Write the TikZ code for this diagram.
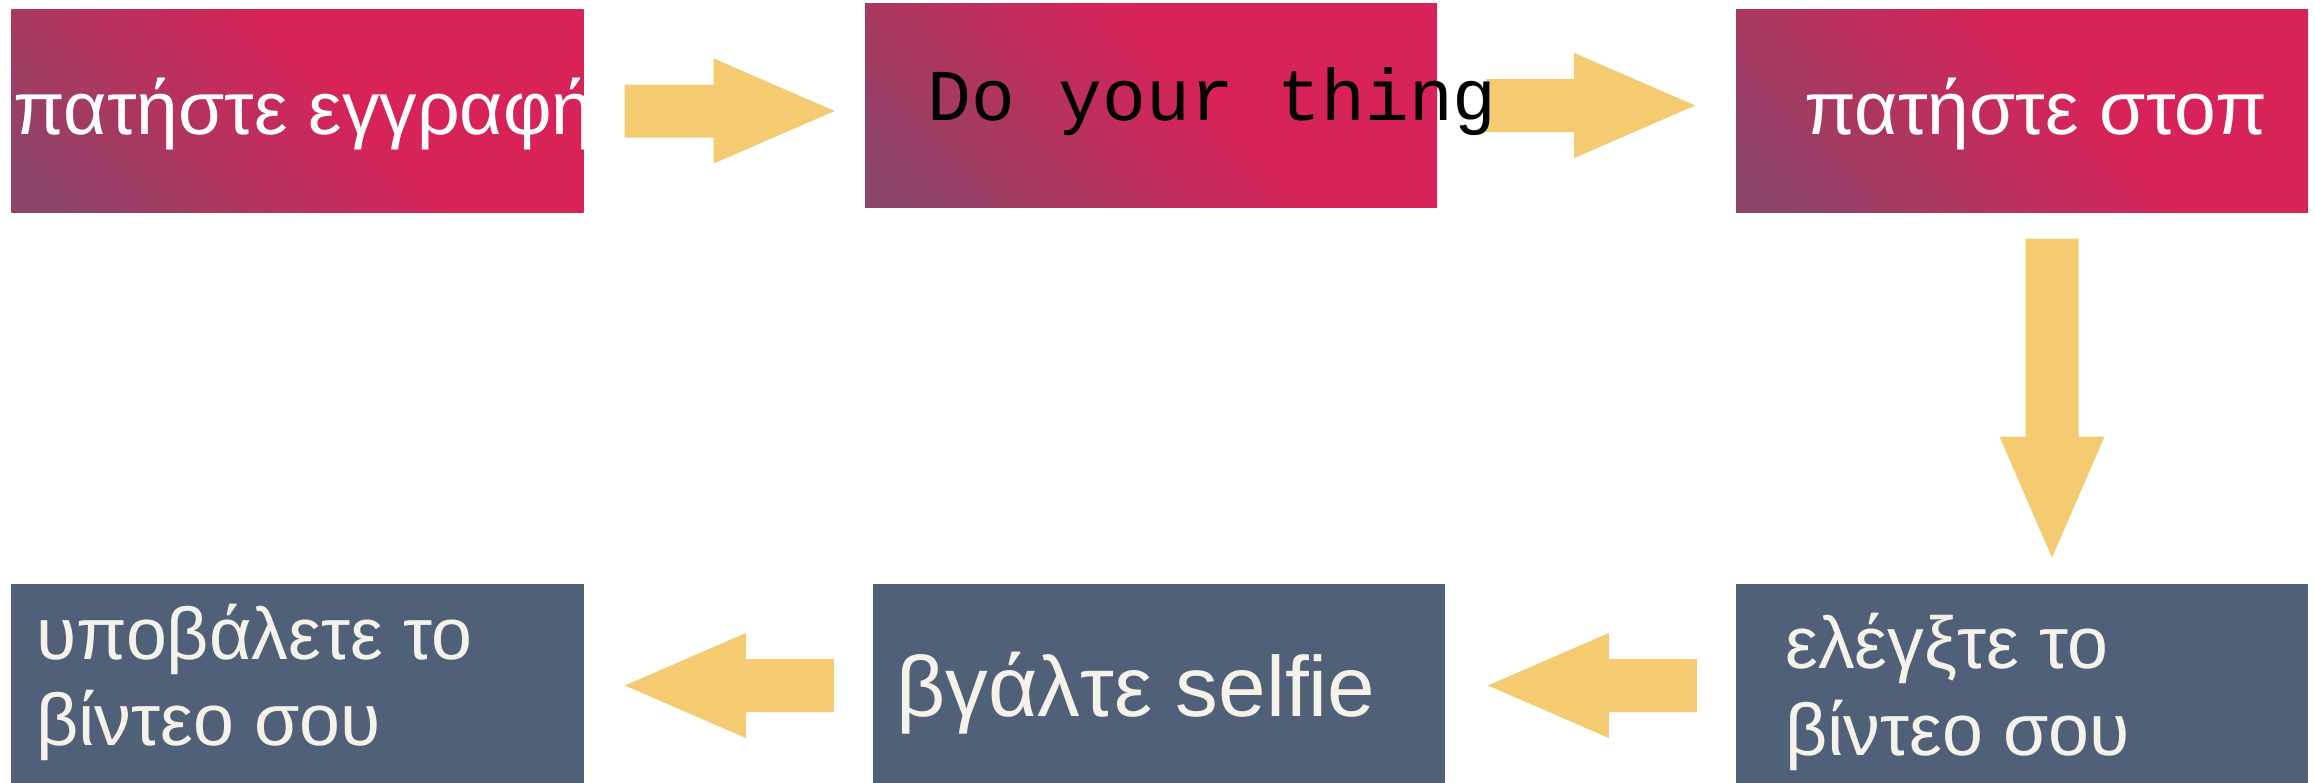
\documentclass[tikz,border=0pt]{standalone}
\usepackage{fontspec}
\setmainfont{Liberation Sans}
\newfontfamily\typewriter{Liberation Mono}

\definecolor{crimson}{HTML}{D72357}
\definecolor{plum}{HTML}{8E4468}
\definecolor{slate}{HTML}{4F6078}
\definecolor{cream}{HTML}{F5F2EA}
\definecolor{mustard}{HTML}{F4CB70}

\pgfdeclarehorizontalshading{redfade}{100bp}{color(0bp)=(plum); color(20bp)=(plum); color(56bp)=(crimson); color(100bp)=(crimson)}

\tikzset{
  redbox/.style={shade, shading=redfade, shading angle=45, inner sep=0pt, minimum width=572bp, minimum height=203bp},
  bluebox/.style={fill=slate, inner sep=0pt, minimum width=572bp, minimum height=203bp},
  bigtext/.style={font=\fontsize{75bp}{86bp}\selectfont, inner sep=0pt, anchor=base west},
  pics/blockarrow/.style={code={
    \fill[mustard] (0,-26.5) -- (#1,-26.5) -- (#1,-52.5) -- ++(121,52.5) -- (#1,52.5) -- (#1,26.5) -- (0,26.5) -- cycle;}}
}

\begin{document}
\begin{tikzpicture}[x=1bp, y=-1bp]
      \clip (0,0) rectangle (2315,782);
      \fill[white] (0,0) rectangle (2315,782);
      % top row
      \node[redbox] (rec) at (297.5,111) {};
      \node[redbox] (do) at (1151,105.5) {};
      \node[redbox] (stop) at (2022,111) {};
      % bottom row
      \node[bluebox] (check) at (2022,685.5) {};
      \node[bluebox] (selfie) at (1159,685.5) {};
      \node[bluebox] (upload) at (297.5,685.5) {};
      % arrows
      \pic (a1) at ([xshift=41bp]rec.east) {blockarrow=89};
      \pic (a2) at ([xshift=49bp]do.east) {blockarrow=88};
      \pic[rotate=-90] (a3) at ([xshift=30bp,yshift=-26bp]stop.south) {blockarrow=198};
      \pic[rotate=180] (a4) at ([xshift=-39bp]check.west) {blockarrow=88};
      \pic[rotate=180] (a5) at ([xshift=-39bp]selfie.west) {blockarrow=88};
      % labels
      \begin{scope}
        \clip (rec.south west) rectangle (rec.north east);
        \node[bigtext, white] (t1) at (13,134) {πατήστε εγγραφή};
      \end{scope}
      \node[bigtext, font=\typewriter\fontsize{73bp}{86bp}\selectfont] (t2) at (927,120) {Do your thing};
      \node[bigtext, white] (t3) at (1804,134) {πατήστε στοπ};
      \node[bigtext, cream, align=left, font=\fontsize{73.5bp}{87bp}\selectfont] (t4) at (1785,755) {ελέγξτε το\\βίντεο σου};
      \node[bigtext, cream, font=\fontsize{85.5bp}{96bp}\selectfont] (t5) at (896,716) {βγάλτε selfie};
      \node[bigtext, cream, align=left, font=\fontsize{73.5bp}{86bp}\selectfont] (t6) at (36,745) {υποβάλετε το\\βίντεο σου};
\end{tikzpicture}
\end{document}
